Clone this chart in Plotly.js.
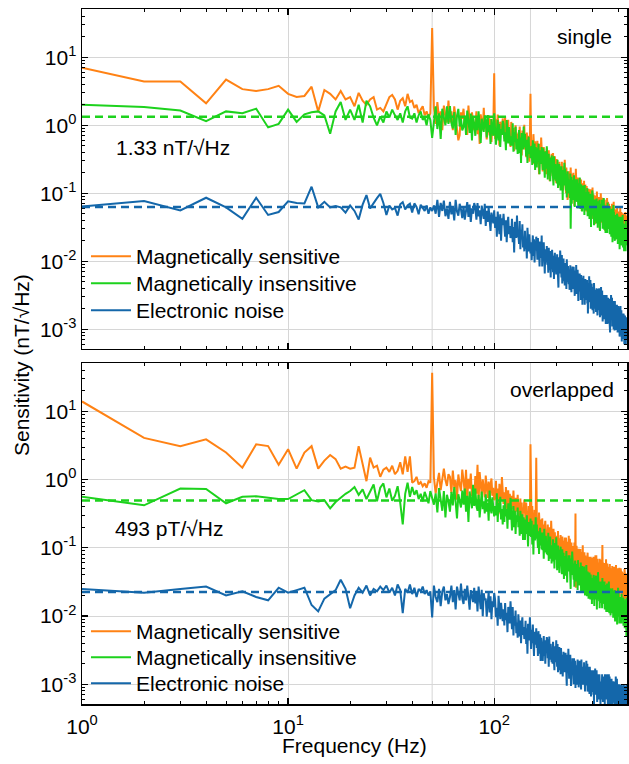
<!DOCTYPE html>
<html><head><meta charset="utf-8">
<script src="https://cdn.plot.ly/plotly-3.0.1.min.js"></script>
<style>html,body{margin:0;padding:0;background:#fff}#chart{width:629px;height:764px}</style>
</head><body><div id="chart"></div>
<script>
// Frequency grid (Hz): first bin and spacing
const freqStart = 1;
const freqStep = 1;
const freqMax = 441;

const seriesNames = ['Magnetically sensitive', 'Magnetically insensitive', 'Electronic noise'];
const panelLabels = ['single', 'overlapped'];
const levelLabels = ['1.33 nT/√Hz', '493 pT/√Hz'];

// mean noise levels (nT/√Hz)
const singleInsensitiveLevel = 1.33;
const singleElectronicLevel = 0.063;
const overlapInsensitiveLevel = 0.493;
const overlapElectronicLevel = 0.0225;

const xTickVals = [1, 10, 100];
const xTickText = ['10<sup>0</sup>', '10<sup>1</sup>', '10<sup>2</sup>'];
const yTickVals = [0.001, 0.01, 0.1, 1, 10];
const yTickText = ['10<sup>-3</sup>', '10<sup>-2</sup>', '10<sup>-1</sup>', '10<sup>0</sup>', '10<sup>1</sup>'];
const gridFreqs = [50, 150];

// ---- single ----
const singleSensitive = [
7.0,4.4,4.4,2.1,4.7,3.4,3.2,3.4,3.8,2.9,
2.6,2.7,3.7,1.6,3.3,2.9,2.4,3.2,2.4,2.6,
1.9,3.0,2.3,2.0,2.4,2.6,1.7,1.8,1.6,2.0,
2.6,2.8,2.4,1.7,2.3,2.5,1.9,2.9,2.2,2.3,
1.8,2.0,1.5,1.7,1.9,1.4,1.6,1.3,1.5,27,
1.8,1.05,2.2,1.25,1.6,0.85,1.95,1.4,1.1,2.3,
1.1,1.6,0.85,1.9,1.35,0.9,0.6,0.72,1.55,1.25,
1.75,0.95,1.3,0.72,1.95,1.1,0.9,1.55,1.2,0.85,
0.95,1.6,0.74,1.25,0.53,1.45,1.1,0.84,1.8,0.9,
1.15,0.62,0.95,1.4,0.71,1.25,0.57,1.05,0.86,5.8,
0.63,1.22,0.77,1.44,0.86,0.5,1.13,0.95,0.72,1.26,
0.88,0.64,1.36,0.52,1.0,0.72,1.2,0.56,0.8,0.48,
1.12,0.63,0.53,0.91,0.42,0.8,1.0,0.56,0.74,0.49,
0.78,0.45,0.96,0.54,0.69,0.36,0.84,0.6,0.48,1.02,
0.44,0.65,0.34,0.78,0.55,0.36,0.7,0.29,0.62,2.9,
0.65,0.36,0.5,0.27,0.74,0.4,0.34,0.58,0.45,0.32,
0.34,0.59,0.27,0.46,0.19,0.53,0.4,0.3,0.66,0.32,
0.38,0.21,0.32,0.48,0.24,0.42,0.19,0.35,0.29,0.46,
0.19,0.36,0.23,0.43,0.26,0.15,0.34,0.28,0.22,0.38,
0.25,0.18,0.39,0.15,0.29,0.21,0.35,0.16,0.23,0.14,
0.32,0.18,0.15,0.26,0.12,0.23,0.29,0.16,0.21,0.14,
0.23,0.135,0.29,0.16,0.21,0.11,0.25,0.18,0.14,0.31,
0.14,0.2,0.1,0.24,0.17,0.11,0.08,0.09,0.19,0.15,
0.21,0.116,0.16,0.087,0.24,0.13,0.11,0.19,0.145,0.1,
0.117,0.2,0.091,0.156,0.065,0.18,0.137,0.104,0.23,0.11,
0.138,0.075,0.115,0.17,0.086,0.15,0.069,0.127,0.1,0.167,
0.07,0.135,0.085,0.16,0.095,0.055,0.125,0.105,0.08,0.14,
0.1,0.072,0.153,0.058,0.112,0.081,0.135,0.063,0.09,0.054,
0.128,0.072,0.06,0.104,0.048,0.092,0.116,0.064,0.084,0.056,
0.094,0.054,0.115,0.065,0.083,0.043,0.1,0.072,0.058,0.122,
0.054,0.08,0.042,0.096,0.067,0.045,0.086,0.035,0.077,0.061,
0.093,0.051,0.07,0.038,0.106,0.058,0.048,0.083,0.064,0.045,
0.051,0.088,0.04,0.068,0.029,0.08,0.06,0.046,0.1,0.048,
0.068,0.037,0.057,0.086,0.043,0.074,0.034,0.063,0.051,0.083,
0.035,0.068,0.043,0.08,0.048,0.028,0.063,0.053,0.04,0.07,
0.055,0.04,0.085,0.033,0.063,0.045,0.075,0.035,0.05,0.03,
0.07,0.04,0.033,0.057,0.026,0.051,0.064,0.035,0.046,0.031,
0.057,0.033,0.07,0.04,0.051,0.026,0.062,0.044,0.035,0.075,
0.033,0.049,0.025,0.059,0.041,0.027,0.053,0.021,0.047,0.037,
0.057,0.031,0.043,0.023,0.064,0.035,0.029,0.051,0.039,0.027,
0.032,0.054,0.025,0.042,0.018,0.049,0.037,0.028,0.061,0.03,
0.042,0.023,0.035,0.053,0.026,0.046,0.021,0.039,0.032,0.051,
0.022,0.042,0.026,0.05,0.029,0.017,0.039,0.033,0.025,0.043,
0.034,0.025,0.053,0.02,0.039,0.028,0.047,0.022,0.031,0.019
];
const singleInsensitive = [
2.0,1.85,1.65,1.15,1.6,1.5,1.75,0.93,1.05,1.7,
1.12,1.45,1.55,1.6,1.4,0.75,1.6,2.2,1.2,1.7,
1.2,2.0,1.1,2.3,1.9,1.3,1.0,1.35,1.1,1.6,
1.3,1.7,1.4,1.2,1.5,1.1,1.6,1.9,1.3,1.25,
1.5,1.1,1.4,1.6,1.2,1.3,1.0,1.45,1.2,0.65,
1.1,1.9,0.88,1.5,0.63,1.75,1.3,1.0,1.9,1.05,
1.92,1.08,0.9,1.56,0.72,1.38,1.74,0.96,1.26,0.84,
0.94,1.38,0.72,1.65,1.16,0.77,1.49,0.6,1.32,1.05,
0.7,1.35,0.85,1.6,0.95,0.55,1.25,1.05,0.8,1.4,
1.14,0.66,1.41,0.79,1.01,0.53,1.23,0.88,0.7,1.5,
0.96,0.52,0.8,1.2,0.6,1.04,0.48,0.88,0.72,1.16,
1.04,0.58,0.79,0.43,1.19,0.65,0.54,0.94,0.72,0.5,
0.69,0.5,1.07,0.41,0.79,0.57,0.95,0.44,0.63,0.38,
0.5,0.85,0.39,0.66,0.28,0.77,0.58,0.44,0.96,0.47,
0.75,0.42,0.35,0.61,0.28,0.54,0.68,0.38,0.49,0.33,
0.34,0.5,0.26,0.6,0.42,0.28,0.54,0.22,0.48,0.38,
0.24,0.46,0.29,0.54,0.32,0.19,0.43,0.36,0.27,0.48,
0.38,0.22,0.46,0.26,0.33,0.17,0.41,0.29,0.23,0.49,
0.3,0.16,0.25,0.38,0.19,0.33,0.15,0.28,0.23,0.36,
0.3,0.17,0.23,0.13,0.35,0.19,0.16,0.27,0.21,0.15,
0.2,0.14,0.31,0.12,0.23,0.16,0.27,0.13,0.18,0.11,
0.14,0.25,0.11,0.19,0.08,0.22,0.17,0.13,0.28,0.14,
0.23,0.13,0.11,0.19,0.087,0.17,0.21,0.116,0.15,0.1,
0.11,0.16,0.085,0.195,0.03,0.09,0.175,0.07,0.156,0.124,
0.08,0.155,0.098,0.184,0.109,0.063,0.144,0.121,0.092,0.161,
0.13,0.075,0.16,0.09,0.115,0.06,0.14,0.1,0.08,0.17,
0.108,0.059,0.09,0.135,0.068,0.117,0.054,0.099,0.081,0.13,
0.116,0.064,0.088,0.048,0.132,0.072,0.06,0.104,0.08,0.056,
0.077,0.056,0.119,0.046,0.088,0.063,0.105,0.049,0.07,0.042,
0.057,0.098,0.044,0.076,0.032,0.088,0.066,0.05,0.11,0.054,
0.09,0.05,0.042,0.073,0.034,0.064,0.081,0.045,0.059,0.039,
0.048,0.07,0.036,0.084,0.059,0.039,0.076,0.031,0.067,0.053,
0.035,0.068,0.043,0.08,0.048,0.028,0.063,0.053,0.04,0.07,
0.065,0.038,0.08,0.045,0.058,0.03,0.07,0.05,0.04,0.085,
0.053,0.029,0.044,0.066,0.033,0.057,0.026,0.048,0.04,0.064,
0.064,0.035,0.048,0.026,0.073,0.04,0.033,0.057,0.044,0.031,
0.042,0.03,0.065,0.025,0.048,0.034,0.057,0.027,0.038,0.023,
0.034,0.059,0.027,0.046,0.019,0.053,0.04,0.03,0.067,0.032,
0.053,0.03,0.025,0.043,0.02,0.038,0.048,0.026,0.035,0.023,
0.028,0.041,0.021,0.05,0.035,0.023,0.045,0.018,0.04,0.031,
0.02,0.038,0.024,0.045,0.027,0.015,0.035,0.029,0.022,0.039,
0.036,0.021,0.045,0.025,0.032,0.017,0.039,0.028,0.022,0.048,
0.029,0.016,0.024,0.036,0.018,0.031,0.014,0.026,0.022,0.035,
0.035,0.019,0.026,0.014,0.04,0.022,0.018,0.031,0.024,0.017
];
const singleElectronic = [
0.064,0.077,0.056,0.086,0.062,0.042,0.086,0.048,0.053,0.076,
0.072,0.071,0.125,0.062,0.075,0.062,0.065,0.062,0.052,0.066,
0.055,0.041,0.068,0.094,0.060,0.073,0.085,0.098,0.072,0.048,
0.066,0.058,0.061,0.047,0.069,0.074,0.058,0.066,0.070,0.052,
0.071,0.063,0.049,0.068,0.060,0.055,0.066,0.050,0.062,0.055,
0.066,0.05,0.08,0.045,0.072,0.055,0.078,0.046,0.06,0.042,
0.075,0.049,0.063,0.04,0.08,0.054,0.047,0.07,0.058,0.043,
0.064,0.041,0.055,0.074,0.045,0.068,0.038,0.06,0.05,0.072,
0.062,0.041,0.072,0.046,0.056,0.035,0.066,0.05,0.042,0.07,
0.033,0.055,0.038,0.062,0.042,0.028,0.052,0.045,0.036,0.056,
0.031,0.045,0.023,0.054,0.038,0.025,0.049,0.02,0.043,0.034,
0.05,0.028,0.023,0.04,0.019,0.036,0.045,0.025,0.033,0.022,
0.024,0.042,0.019,0.032,0.0135,0.038,0.028,0.022,0.047,0.023,
0.025,0.018,0.039,0.015,0.029,0.021,0.035,0.016,0.023,0.014,
0.028,0.015,0.021,0.011,0.031,0.017,0.014,0.025,0.019,0.013,
0.019,0.0104,0.016,0.024,0.012,0.021,0.0096,0.018,0.0144,0.023,
0.018,0.0105,0.022,0.0126,0.016,0.0084,0.0196,0.014,0.0112,0.024,
0.0084,0.016,0.0102,0.019,0.0114,0.0066,0.015,0.0126,0.0096,0.0168,
0.0089,0.0131,0.0068,0.0158,0.011,0.0074,0.0142,0.0058,0.0126,0.01,
0.0147,0.0083,0.0069,0.012,0.0055,0.0106,0.0133,0.0074,0.0097,0.0064,
0.0074,0.0127,0.0057,0.0098,0.0041,0.0115,0.0086,0.0066,0.0144,0.007,
0.008,0.0058,0.0124,0.0047,0.0091,0.0066,0.011,0.0051,0.0073,0.0044,
0.0094,0.0052,0.0072,0.0039,0.0107,0.0059,0.0049,0.0085,0.0065,0.0046,
0.007,0.0038,0.0058,0.0087,0.0044,0.0075,0.0035,0.0064,0.0052,0.0084,
0.0068,0.0039,0.0083,0.0047,0.006,0.0031,0.0073,0.0052,0.0042,0.0088,
0.0033,0.0063,0.004,0.0075,0.0045,0.0026,0.0059,0.0049,0.0038,0.0066,
0.0036,0.0053,0.0027,0.0063,0.0044,0.0029,0.0057,0.0023,0.005,0.004,
0.0061,0.0034,0.0029,0.0049,0.0023,0.0044,0.0055,0.003,0.004,0.0027,
0.0031,0.0053,0.0024,0.0041,0.0017,0.0048,0.0036,0.0027,0.006,0.0029,
0.0034,0.0025,0.0053,0.002,0.0039,0.0028,0.0047,0.0022,0.0031,0.0019,
0.0042,0.0023,0.0032,0.0017,0.0048,0.0026,0.0022,0.0038,0.0029,0.002,
0.0032,0.0018,0.0027,0.004,0.002,0.0035,0.0016,0.003,0.0024,0.0039,
0.0033,0.0019,0.004,0.0023,0.0029,0.0015,0.0035,0.0025,0.002,0.0042,
0.0016,0.0031,0.002,0.0037,0.0022,0.0013,0.0029,0.0024,0.0018,0.0032,
0.0018,0.0026,0.0014,0.0032,0.0022,0.0015,0.0028,0.0012,0.0025,0.002,
0.0032,0.0018,0.0015,0.0026,0.0012,0.0023,0.0029,0.0016,0.0021,0.0014,
0.0016,0.0028,0.0013,0.0022,0.0009,0.0025,0.0019,0.0014,0.0032,0.0015,
0.0019,0.0014,0.0029,0.0011,0.0021,0.0015,0.0026,0.0012,0.0017,0.001,
0.0023,0.0013,0.0018,0.00096,0.0026,0.0014,0.0012,0.0021,0.0016,0.0011,
0.0018,0.00098,0.0015,0.0023,0.0011,0.002,0.0009,0.0017,0.0014,0.0022,
0.0017,0.00098,0.0021,0.0012,0.0015,0.00078,0.0018,0.0013,0.001,0.0022,
0.00084,0.0016,0.001,0.0019,0.0011,0.00066,0.0015,0.0013,0.00096,0.0017,
0.00094,0.0014,0.00072,0.0017,0.0012,0.00077,0.0015,0.0006,0.0013,0.001,
0.0016,0.0009,0.00075,0.0013,0.0006,0.0012,0.0015,0.0008,0.0011,0.0007
];

// ---- overlapped ----
const overlapSensitive = [
14,4.1,3.1,3.9,2.5,1.5,3.3,3.1,1.65,2.8,
1.45,2.5,3.1,1.45,1.9,2.3,2.0,1.45,1.55,1.45,
1.5,3.1,1.7,0.95,2.1,1.5,1.6,1.1,1.4,1.5,
1.3,1.6,1.2,1.35,1.8,1.2,2.2,1.3,2.2,0.9,
0.95,1.1,0.85,0.92,0.8,0.88,0.76,0.95,0.9,37,
1.08,0.63,0.9,1.26,0.7,1.12,1.45,0.99,0.81,1.2,
1.1,0.64,1.36,0.77,0.98,0.51,1.19,0.85,0.68,1.4,
0.9,0.66,1.39,0.53,1.03,0.74,1.23,0.57,0.82,0.49,
1.13,0.62,1.65,0.47,1.29,0.7,0.59,1.01,0.78,0.55,
1.15,0.65,0.54,0.94,0.43,0.83,1.04,0.58,0.76,0.5,
0.56,0.96,0.43,0.74,0.31,0.87,0.65,0.5,1.09,0.53,
0.44,0.65,0.34,0.78,0.55,0.36,0.7,0.29,0.62,0.49,
0.3,0.58,0.37,0.69,0.41,0.24,0.54,0.45,0.34,0.6,
0.42,0.23,0.35,0.53,0.26,0.46,0.21,0.39,0.32,0.51,
0.38,0.22,0.46,0.26,0.33,0.17,0.41,0.29,0.23,3.3,
0.26,0.19,0.41,0.16,0.3,0.22,0.36,0.17,0.24,2.1,
0.29,0.16,0.22,0.12,0.33,0.18,0.15,0.26,0.2,0.14,
0.27,0.15,0.13,0.22,0.1,0.2,0.25,0.14,0.18,0.12,
0.13,0.22,0.1,0.17,0.073,0.2,0.15,0.116,0.25,0.123,
0.106,0.156,0.081,0.19,0.131,0.088,0.169,0.069,0.15,0.119,
0.077,0.149,0.094,0.176,0.105,0.06,0.138,0.116,0.088,0.154,
0.118,0.064,0.098,0.147,0.074,0.127,0.059,0.108,0.088,0.142,
0.114,0.066,0.141,0.079,0.101,0.053,0.123,0.088,0.07,0.15,
0.088,0.064,0.136,0.052,0.1,0.072,0.12,0.056,0.08,0.048,
0.106,0.058,0.08,0.044,0.12,0.066,0.055,0.32,0.026,0.051,
0.107,0.06,0.05,0.087,0.04,0.077,0.097,0.054,0.07,0.047,
0.056,0.096,0.043,0.074,0.031,0.087,0.065,0.05,0.109,0.053,
0.048,0.071,0.037,0.086,0.06,0.04,0.077,0.031,0.068,0.054,
0.037,0.072,0.045,0.085,0.05,0.029,0.066,0.056,0.042,0.074,
0.059,0.032,0.049,0.074,0.037,0.064,0.029,0.054,0.044,0.071,
0.06,0.035,0.074,0.041,0.053,0.028,0.064,0.046,0.037,0.078,
0.051,0.037,0.078,0.03,0.058,0.041,0.069,0.032,0.046,0.028,
0.061,0.034,0.046,0.025,0.069,0.038,0.032,0.055,0.042,0.029,
0.067,0.038,0.032,0.055,0.11,0.048,0.061,0.034,0.044,0.029,
0.035,0.06,0.027,0.047,0.02,0.055,0.041,0.031,0.068,0.033,
0.033,0.049,0.025,0.059,0.041,0.027,0.053,0.021,0.047,0.037,
0.025,0.049,0.031,0.058,0.034,0.02,0.045,0.038,0.029,0.05,
0.043,0.023,0.036,0.054,0.027,0.047,0.022,0.04,0.032,0.052,
0.043,0.025,0.053,0.03,0.038,0.02,0.046,0.033,0.026,0.056,
0.036,0.026,0.056,0.021,0.041,0.03,0.05,0.023,0.033,0.02,
0.045,0.025,0.034,0.019,0.051,0.028,0.023,0.04,0.031,0.022,
0.05,0.028,0.023,0.04,0.019,0.036,0.045,0.025,0.033,0.022,
0.025,0.043,0.02,0.034,0.014,0.039,0.029,0.022,0.049,0.024,
0.024,0.035,0.018,0.042,0.029,0.02,0.038,0.015,0.034,0.027
];
const overlapInsensitive = [
0.56,0.42,0.74,0.73,0.45,0.56,0.57,0.54,0.52,0.52,
0.6,0.7,0.5,0.48,0.50,0.38,0.47,0.55,0.62,0.68,
0.78,0.60,0.72,0.52,0.68,0.85,0.48,0.76,0.88,0.55,
0.74,0.49,0.58,0.80,0.46,0.22,0.62,0.90,0.56,0.78,
0.60,0.70,0.52,0.62,0.48,0.66,0.55,0.45,0.68,0.55,
0.43,0.63,0.33,0.75,0.53,0.35,0.68,0.28,0.6,0.48,
0.34,0.66,0.42,0.78,0.47,0.27,0.61,0.51,0.39,0.69,
0.43,0.74,0.34,0.58,0.24,0.67,0.5,0.38,0.84,0.41,
0.74,0.41,0.35,0.6,0.28,0.53,0.67,0.37,0.48,0.32,
0.61,0.34,0.46,0.25,0.69,0.38,0.32,0.55,0.42,0.29,
0.41,0.3,0.63,0.24,0.46,0.33,0.56,0.26,0.37,0.22,
0.42,0.24,0.51,0.29,0.37,0.19,0.45,0.32,0.26,0.54,
0.32,0.18,0.27,0.41,0.2,0.35,0.16,0.3,0.24,0.39,
0.2,0.29,0.15,0.35,0.24,0.16,0.31,0.13,0.28,0.22,
0.13,0.26,0.16,0.3,0.18,0.105,0.24,0.2,0.15,0.27,
0.144,0.25,0.112,0.19,0.08,0.22,0.17,0.128,0.28,0.136,
0.22,0.12,0.1,0.175,0.081,0.155,0.196,0.108,0.142,0.095,
0.167,0.092,0.127,0.069,0.19,0.104,0.086,0.15,0.115,0.081,
0.108,0.078,0.167,0.064,0.123,0.088,0.147,0.069,0.098,0.059,
0.109,0.063,0.134,0.076,0.097,0.05,0.118,0.084,0.067,0.143,
0.086,0.047,0.072,0.108,0.054,0.094,0.043,0.079,0.065,0.104,
0.054,0.079,0.041,0.095,0.066,0.044,0.085,0.035,0.076,0.06,
0.039,0.076,0.048,0.09,0.053,0.031,0.07,0.059,0.045,0.078,
0.045,0.078,0.035,0.06,0.025,0.07,0.053,0.04,0.088,0.043,
0.072,0.041,0.034,0.059,0.027,0.052,0.065,0.036,0.047,0.032,
0.058,0.032,0.044,0.024,0.066,0.036,0.03,0.052,0.04,0.028,
0.04,0.029,0.061,0.023,0.045,0.032,0.054,0.025,0.036,0.022,
0.043,0.025,0.053,0.03,0.038,0.02,0.046,0.033,0.026,0.056,
0.036,0.0195,0.03,0.045,0.0225,0.039,0.018,0.033,0.027,0.0435,
0.023,0.034,0.0175,0.0405,0.028,0.019,0.036,0.015,0.032,0.026,
0.0175,0.034,0.021,0.04,0.024,0.014,0.031,0.026,0.02,0.035,
0.0225,0.039,0.0175,0.03,0.0125,0.035,0.026,0.02,0.044,0.021,
0.035,0.02,0.0165,0.029,0.013,0.025,0.032,0.0175,0.023,0.0155,
0.032,0.0175,0.024,0.013,0.036,0.02,0.0165,0.029,0.022,0.0155,
0.021,0.015,0.032,0.0125,0.024,0.017,0.0285,0.013,0.019,0.0115,
0.025,0.014,0.03,0.017,0.022,0.0115,0.027,0.019,0.015,0.032,
0.02,0.011,0.017,0.0255,0.013,0.022,0.0102,0.019,0.015,0.025,
0.0145,0.021,0.011,0.0255,0.018,0.012,0.023,0.0094,0.02,0.016,
0.0105,0.02,0.0128,0.024,0.014,0.0083,0.019,0.016,0.012,0.021,
0.0135,0.023,0.0105,0.018,0.0075,0.021,0.016,0.012,0.026,0.0128,
0.021,0.0117,0.0098,0.017,0.0078,0.015,0.019,0.0104,0.0137,0.0091,
0.019,0.0104,0.0143,0.0078,0.021,0.0117,0.0098,0.017,0.013,0.0091,
0.0121,0.0088,0.0187,0.0072,0.0138,0.0099,0.0165,0.0077,0.011,0.0066,
0.0143,0.0083,0.0176,0.0099,0.0127,0.0066,0.0154,0.005,0.0088,0.0187
];
const overlapElectronic = [
0.025,0.022,0.025,0.027,0.020,0.023,0.019,0.017,0.026,0.022,
0.024,0.026,0.0145,0.0117,0.018,0.021,0.024,0.034,0.025,0.013,
0.020,0.026,0.022,0.028,0.020,0.025,0.023,0.027,0.024,0.028,
0.022,0.026,0.020,0.029,0.024,0.011,0.025,0.022,0.029,0.021,
0.026,0.019,0.025,0.023,0.027,0.021,0.024,0.020,0.023,0.0095,
0.028,0.019,0.016,0.025,0.014,0.023,0.027,0.017,0.021,0.015,
0.019,0.028,0.016,0.024,0.0125,0.027,0.021,0.017,0.03,0.018,
0.015,0.025,0.017,0.028,0.019,0.0124,0.024,0.02,0.016,0.026,
0.0153,0.0225,0.0117,0.027,0.0189,0.0126,0.0243,0.0099,0.0216,0.0171,
0.018,0.0098,0.015,0.0225,0.0113,0.0195,0.009,0.0165,0.0135,0.0218,
0.0174,0.0096,0.0132,0.0072,0.0198,0.0108,0.009,0.0156,0.012,0.0084,
0.0126,0.0073,0.0155,0.0087,0.0112,0.0058,0.0136,0.0097,0.0078,0.0165,
0.0088,0.0064,0.0136,0.0052,0.01,0.0072,0.012,0.0056,0.008,0.0048,
0.0106,0.0059,0.005,0.0086,0.004,0.0076,0.0096,0.0053,0.0069,0.0046,
0.005,0.0085,0.0039,0.0066,0.0028,0.0077,0.0058,0.0044,0.0096,0.0047,
0.0033,0.0063,0.004,0.0075,0.0045,0.0026,0.0059,0.0049,0.0038,0.0066,
0.0034,0.005,0.0026,0.006,0.0042,0.0028,0.0054,0.0022,0.0048,0.0038,
0.0041,0.0022,0.0034,0.0051,0.0026,0.0044,0.002,0.0037,0.0031,0.0049,
0.0044,0.0024,0.0033,0.0018,0.005,0.0027,0.0023,0.0039,0.003,0.0021,
0.0034,0.002,0.0042,0.0023,0.003,0.0016,0.0036,0.0026,0.0021,0.0044,
0.0025,0.0018,0.0039,0.0015,0.0029,0.0021,0.0035,0.0016,0.0023,0.0014,
0.0034,0.0019,0.0016,0.0027,0.0013,0.0024,0.003,0.0017,0.0022,0.0015,
0.0017,0.0029,0.0013,0.0023,0.00095,0.0027,0.002,0.0015,0.0033,0.0016,
0.0012,0.0023,0.0014,0.0027,0.0016,0.00094,0.0021,0.0018,0.0014,0.0024,
0.0014,0.002,0.001,0.0024,0.0017,0.0011,0.0022,0.00088,0.0019,0.0015,
0.0018,0.00098,0.0015,0.0023,0.0011,0.002,0.0009,0.0017,0.0014,0.0022,
0.002,0.0011,0.0015,0.00084,0.0023,0.0013,0.0011,0.0018,0.0014,0.00098,
0.0017,0.00098,0.0021,0.0012,0.0015,0.00078,0.0018,0.0013,0.001,0.0022,
0.0013,0.00096,0.002,0.00078,0.0015,0.0011,0.0018,0.00084,0.0012,0.00072,
0.0018,0.00099,0.00083,0.0014,0.00066,0.0013,0.0016,0.00088,0.0012,0.00077,
0.0009,0.0016,0.0007,0.0012,0.0005,0.0014,0.00105,0.0008,0.0017,0.00085,
0.0007,0.0013,0.00085,0.0016,0.00095,0.00055,0.0012,0.00105,0.0008,0.0014,
0.00078,0.0012,0.0006,0.0014,0.00097,0.00064,0.0012,0.00051,0.0011,0.00087,
0.0011,0.0006,0.00092,0.0014,0.00069,0.0012,0.00055,0.001,0.00083,0.0013,
0.0012,0.00068,0.00094,0.00051,0.0014,0.00077,0.00064,0.0011,0.00085,0.0006,
0.0011,0.00064,0.0014,0.00077,0.00098,0.00051,0.0012,0.00085,0.00068,0.0014,
0.00086,0.00062,0.0013,0.00051,0.00098,0.0007,0.0012,0.00055,0.00078,0.00047,
0.0012,0.0007,0.00059,0.001,0.00047,0.0009,0.0011,0.00062,0.00082,0.00055,
0.00065,0.0011,0.0005,0.00086,0.00036,0.001,0.00076,0.00058,0.0013,0.00061,
0.0005,0.00097,0.00061,0.0012,0.00068,0.0004,0.0009,0.00076,0.00058,0.001,
0.00056,0.00083,0.00043,0.00099,0.00069,0.00046,0.00089,0.00036,0.00079,0.00063,
0.00079,0.00043,0.00066,0.00099,0.0005,0.00086,0.0004,0.00073,0.00059,0.00096,
0.00087,0.00048,0.00066,0.00036,0.00099,0.00054,0.00045,0.00078,0.0006,0.00042,
0.00078,0.00045,0.00096,0.00054,0.00069,0.00036,0.00084,0.0006,0.00048,0.001
];

const colors = ['#FF8214', '#1DD21D', '#1467AA'];
const FONT = 'Liberation Sans, Arial, sans-serif';

function mk(y, i, xa, ya, legend) {
  return {
    type: 'scatter', mode: 'lines', x0: freqStart, dx: freqStep, y: y,
    name: seriesNames[i], line: {color: colors[i], width: 2},
    xaxis: xa, yaxis: ya, legend: legend, hoverinfo: 'skip'
  };
}

const traces = [
  mk(singleSensitive, 0, 'x2', 'y2', 'legend'),
  mk(singleInsensitive, 1, 'x2', 'y2', 'legend2'),
  mk(singleElectronic, 2, 'x2', 'y2', 'legend3'),
  mk(overlapSensitive, 0, 'x', 'y', 'legend4'),
  mk(overlapInsensitive, 1, 'x', 'y', 'legend5'),
  mk(overlapElectronic, 2, 'x', 'y', 'legend6')
];

const axisCommon = {
  type: 'log', showline: true, linecolor: '#000', linewidth: 1.5, mirror: 'allticks',
  ticks: 'inside', ticklen: 6, tickwidth: 1.2, tickcolor: '#000',
  showgrid: true, gridcolor: '#d6d6d6', gridwidth: 1, zeroline: false,
  tickfont: {family: FONT, size: 21, color: '#000'},
  minor: {ticks: 'inside', ticklen: 3, tickwidth: 1, tickcolor: '#000', dtick: 'D1', showgrid: false}
};
const xRange = [Math.log10(freqStart), Math.log10(freqMax)];
const yRange = [-3.29, 1.71];

const shapes = [];
gridFreqs.forEach(f => {
  shapes.push({type: 'line', xref: 'x', yref: 'y domain', x0: f, x1: f, y0: 0, y1: 1, layer: 'below', line: {color: '#d6d6d6', width: 1}});
  shapes.push({type: 'line', xref: 'x2', yref: 'y2 domain', x0: f, x1: f, y0: 0, y1: 1, layer: 'below', line: {color: '#d6d6d6', width: 1}});
});
[[singleInsensitiveLevel, 1, 'x2 domain', 'y2'], [singleElectronicLevel, 2, 'x2 domain', 'y2'],
 [overlapInsensitiveLevel, 1, 'x domain', 'y'], [overlapElectronicLevel, 2, 'x domain', 'y']].forEach(d => {
  shapes.push({type: 'line', xref: d[2], yref: d[3], x0: 0, x1: 1, y0: d[0], y1: d[0], layer: 'above', line: {color: colors[d[1]], width: 2.5, dash: '8px,5px'}});
});

const legendCommon = {x: 0.0073, xanchor: 'left', yanchor: 'top', bgcolor: 'rgba(0,0,0,0)', borderwidth: 0,
  font: {family: FONT, size: 21, color: '#000'}, itemwidth: 40, traceorder: 'normal'};
const lg = y => Object.assign({}, legendCommon, {y: y});

const ann = (text, x, y, xanchor, extra) => Object.assign({text: text, xref: 'paper', yref: 'paper', x: x, y: y,
  xanchor: xanchor, yanchor: 'middle', showarrow: false, font: {family: FONT, size: 21, color: '#000'}}, extra || {});

const layout = {
  width: 629, height: 764, margin: {l: 82, r: 2, t: 9, b: 60},
  paper_bgcolor: '#fff', plot_bgcolor: '#fff',
  font: {family: FONT, size: 21, color: '#000'},
  showlegend: true,
  xaxis: Object.assign({}, axisCommon, {range: xRange, domain: [0, 1], anchor: 'y', tickmode: 'array', tickvals: xTickVals, ticktext: xTickText, ticklabelstandoff: 3}),
  xaxis2: Object.assign({}, axisCommon, {range: xRange, domain: [0, 1], anchor: 'y2', matches: 'x', tickmode: 'array', tickvals: xTickVals, ticktext: xTickText, showticklabels: false}),
  yaxis: Object.assign({}, axisCommon, {range: yRange, domain: [0, 0.4906], anchor: 'x', tickmode: 'array', tickvals: yTickVals, ticktext: yTickText}),
  yaxis2: Object.assign({}, axisCommon, {range: yRange, domain: [0.5108, 1], anchor: 'x2', tickmode: 'array', tickvals: yTickVals, ticktext: yTickText}),
  legend: lg(0.6734), legend2: lg(0.6345), legend3: lg(0.5957),
  legend4: lg(0.1338), legend5: lg(0.0964), legend6: lg(0.0590),
  shapes: shapes,
  annotations: [
    ann(panelLabels[0], 0.976, 0.961, 'right'),
    ann(panelLabels[1], 0.980, 0.4518, 'right'),
    ann(levelLabels[0], 0.0587, 0.8014, 'left'),
    ann(levelLabels[1], 0.0569, 0.2532, 'left'),
    ann('Sensitivity (nT/√Hz)', -0.110, 0.4878, 'center', {textangle: -90}),
    ann('Frequency (Hz)', 0.5, -0.059, 'center')
  ]
};

Plotly.newPlot('chart', traces, layout, {staticPlot: true, displayModeBar: false});
</script>
</body></html>
